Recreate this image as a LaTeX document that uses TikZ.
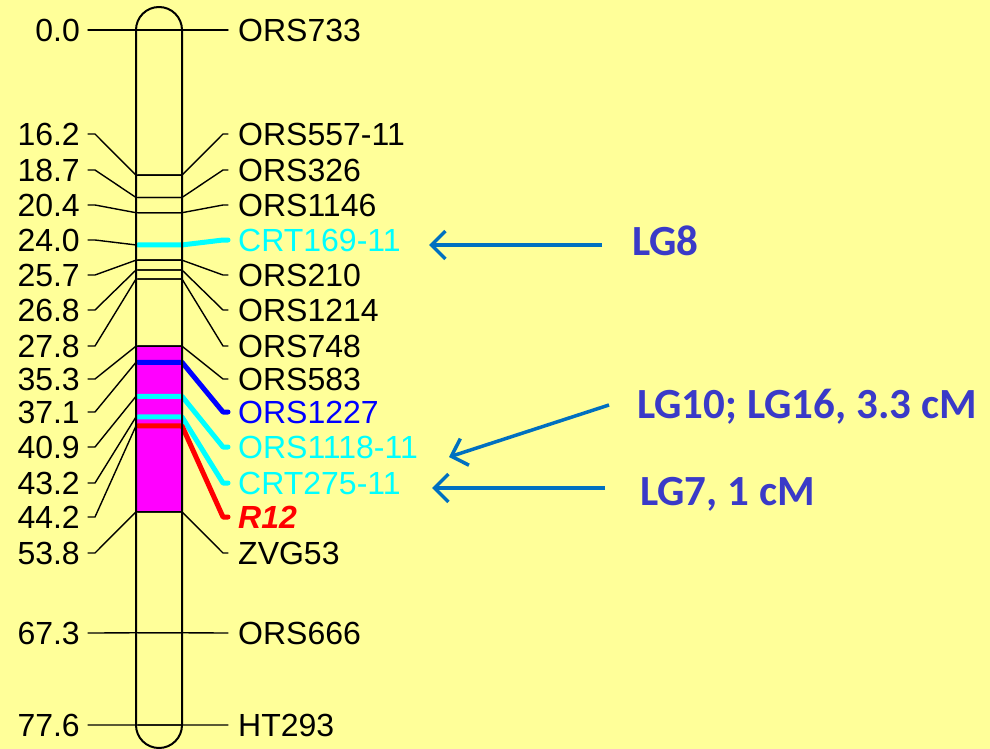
\documentclass[tikz,border=0pt]{standalone}
\usepackage{fontspec}
\setmainfont{Liberation Sans}
\newfontfamily\lgfont{Carlito}
\usetikzlibrary{arrows.meta}

\definecolor{paper}{HTML}{FFFF99}
\definecolor{lgblue}{HTML}{3A3AC8}
\definecolor{arrowblue}{HTML}{0070C0}
\definecolor{mkcyan}{HTML}{00FFFF}
\definecolor{region}{HTML}{FF00FF}

\begin{document}
\begin{tikzpicture}[x=1pt, y=-1pt,
    marker/.style={font=\fontsize{32}{38}\selectfont, inner sep=0pt},
    cmlabel/.style={marker, anchor=east, inner xsep=8pt},
    mklabel/.style={marker, anchor=west, inner xsep=10pt},
    band/.style={line width=1.4pt, line join=round, line cap=round},
    chrom/.style={draw=black, line width=2pt},
    lg/.style={font=\lgfont\bfseries\fontsize{43}{50}\selectfont, text=lgblue, inner sep=0pt, anchor=base west},
    pointer/.style={draw=arrowblue, line width=3.5pt, -{Straight Barb[length=14pt, width=28pt]}}
]
\useasboundingbox (0,0) rectangle (990,749);
\fill[paper] (0,0) rectangle (990,749);

% resistance region
\fill[region] (136,346) rectangle (182,512);

% markers: position, label row, name, colour, width
\foreach \i/\cm/\ly/\mk/\col/\lw in {
    1/0.0/30/ORS733/black/1.4,
    2/16.2/134/ORS557-11/black/1.4,
    3/18.7/170/ORS326/black/1.4,
    4/20.4/205/ORS1146/black/1.4,
    5/24.0/240/CRT169-11/mkcyan/5,
    6/25.7/275/ORS210/black/1.4,
    7/26.8/310/ORS1214/black/1.4,
    8/27.8/346/ORS748/black/1.4,
    9/35.3/379/ORS583/black/1.4,
    10/37.1/412/ORS1227/blue/5,
    11/40.9/447/ORS1118-11/mkcyan/5,
    12/43.2/483/CRT275-11/mkcyan/5,
    13/44.2/517/{\bfseries\itshape R12}/red/5,
    14/53.8/553/ZVG53/black/1.4,
    15/67.3/633/ORS666/black/1.4,
    16/77.6/725/HT293/black/1.4}{
  \pgfmathsetmacro\cy{30+\cm*8.9562}
  \node[cmlabel] (v\i) at (88,\ly) {\cm};
  \node[mklabel, text=\col] (m\i) at (228,\ly) {\mk};
  \coordinate (bl\i) at (136,\cy);
  \coordinate (br\i) at (182,\cy);
  \draw[band] (v\i.east) -- ++(7,0) -- (bl\i) -- (br\i);
  \draw[band, draw=\col, line width=\lw pt] ([xshift=2pt]bl\i) -- (br\i) -- ([xshift=-5pt]m\i.west) -- (m\i.west);
}

% chromosome outline
\draw[chrom] (136,725) -- (136,30) arc[start angle=180, end angle=360, radius=23]
    -- (182,725) arc[start angle=0, end angle=180, radius=23];

% linkage groups
\node[lg] (lg8) at (632,255) {LG8};
\node[lg] (lg10) at (637,418) {LG10; LG16, 3.3 cM};
\node[lg] (lg7) at (640,505) {LG7, 1 cM};
\coordinate (t8) at (429,245);
\coordinate (t10) at (449,457);
\coordinate (t7) at (432,488);
\draw[pointer] ([shift={(-30pt,10pt)}]lg8.base west) -- (t8);
\draw[pointer] ([shift={(-28pt,13pt)}]lg10.base west) -- (t10);
\draw[pointer] ([shift={(-35pt,17pt)}]lg7.base west) -- (t7);
\end{tikzpicture}
\end{document}
